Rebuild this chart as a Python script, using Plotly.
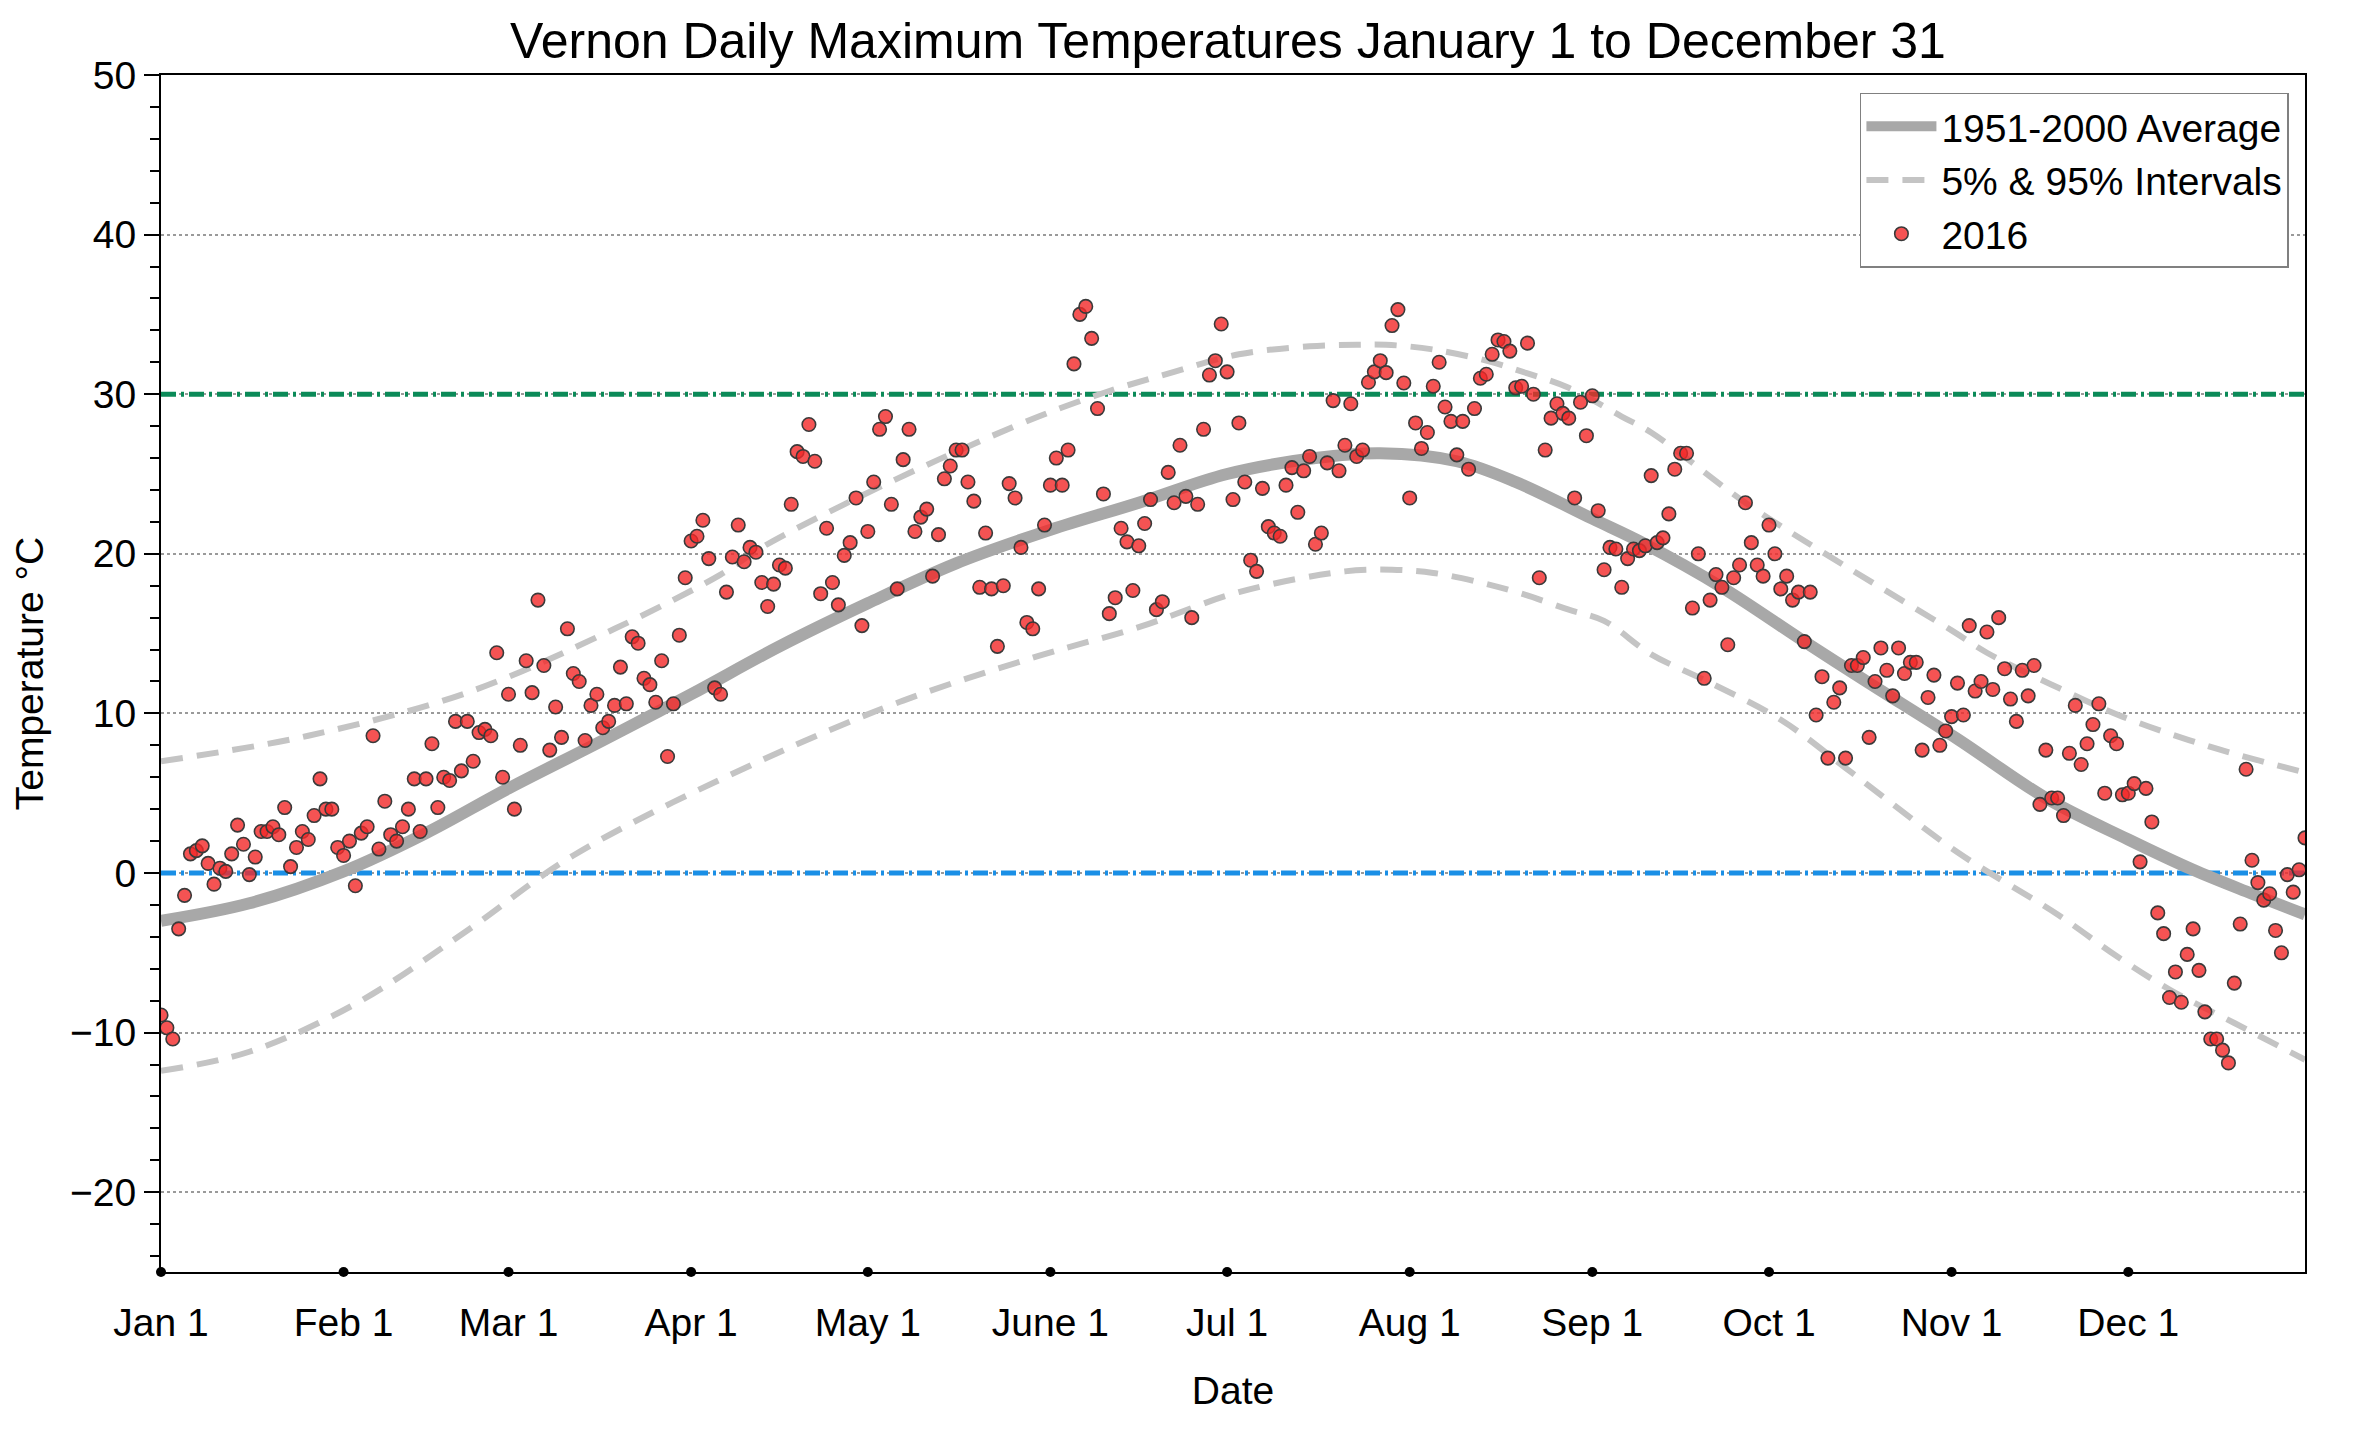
import plotly.graph_objects as go

# ---------------- data ----------------
temps_2016 = [
    -8.9, -9.7, -10.4, -3.5, -1.4, 1.2, 1.4, 1.7, 0.6, -0.7,
    0.3, 0.1, 1.2, 3.0, 1.8, -0.1, 1.0, 2.6, 2.6, 2.9,
    2.4, 4.1, 0.4, 1.6, 2.6, 2.1, 3.6, 5.9, 4.0, 4.0,
    1.6, 1.1, 2.0, -0.8, 2.5, 2.9, 8.6, 1.5, 4.5, 2.4,
    2.0, 2.9, 4.0, 5.9, 2.6, 5.9, 8.1, 4.1, 6.0, 5.8,
    9.5, 6.4, 9.5, 7.0, 8.8, 9.0, 8.6, 13.8, 6.0, 11.2,
    4.0, 8.0, 13.3, 11.3, 17.1, 13.0, 7.7, 10.4, 8.5, 15.3,
    12.5, 12.0, 8.3, 10.5, 11.2, 9.1, 9.5, 10.5, 12.9, 10.6,
    14.8, 14.4, 12.2, 11.8, 10.7, 13.3, 7.3, 10.6, 14.9, 18.5,
    20.8, 21.1, 22.1, 19.7, 11.6, 11.2, 17.6, 19.8, 21.8, 19.5,
    20.4, 20.1, 18.2, 16.7, 18.1, 19.3, 19.1, 23.1, 26.4, 26.1,
    28.1, 25.8, 17.5, 21.6, 18.2, 16.8, 19.9, 20.7, 23.5, 15.5,
    21.4, 24.5, 27.8, 28.6, 23.1, 17.8, 25.9, 27.8, 21.4, 22.3,
    22.8, 18.6, 21.2, 24.7, 25.5, 26.5, 26.5, 24.5, 23.3, 17.9,
    21.3, 17.8, 14.2, 18.0, 24.4, 23.5, 20.4, 15.7, 15.3, 17.8,
    21.8, 24.3, 26.0, 24.3, 26.5, 31.9, 35.0, 35.5, 33.5, 29.1,
    23.75, 16.25, 17.25, 21.6, 20.75, 17.7, 20.5, 21.9, 23.4, 16.5,
    17.0, 25.1, 23.2, 26.8, 23.6, 16.0, 23.1, 27.8, 31.2, 32.1,
    34.4, 31.4, 23.4, 28.2, 24.5, 19.6, 18.9, 24.1, 21.7, 21.3,
    21.1, 24.3, 25.4, 22.6, 25.2, 26.1, 20.6, 21.3, 25.7, 29.6,
    25.2, 26.8, 29.4, 26.1, 26.5, 30.75, 31.4, 32.1, 31.35, 34.3,
    35.3, 30.7, 23.5, 28.2, 26.6, 27.6, 30.5, 32.0, 29.2, 28.3,
    26.2, 28.3, 25.3, 29.1, 31.0, 31.25, 32.5, 33.4, 33.3, 32.7,
    30.4, 30.5, 33.2, 30.0, 18.5, 26.5, 28.5, 29.4, 28.8, 28.5,
    23.5, 29.5, 27.4, 29.9, 22.7, 19.0, 20.4, 20.3, 17.9, 19.7,
    20.3, 20.2, 20.5, 24.9, 20.7, 21.0, 22.5, 25.3, 26.3, 26.3,
    16.6, 20.0, 12.2, 17.1, 18.7, 17.9, 14.3, 18.5, 19.3, 23.2,
    20.7, 19.3, 18.6, 21.8, 20.0, 17.8, 18.6, 17.1, 17.6, 14.5,
    17.6, 9.9, 12.3, 7.2, 10.7, 11.6, 7.2, 13.0, 13.0, 13.5,
    8.5, 12.0, 14.1, 12.7, 11.1, 14.1, 12.5, 13.2, 13.2, 7.7,
    11.0, 12.4, 8.0, 8.9, 9.8, 11.9, 9.9, 15.5, 11.4, 12.0,
    15.1, 11.5, 16.0, 12.8, 10.9, 9.5, 12.7, 11.1, 13.0, 4.3,
    7.7, 4.7, 4.7, 3.6, 7.5, 10.5, 6.8, 8.1, 9.3, 10.6,
    5.0, 8.6, 8.1, 4.9, 5.0, 5.6, 0.7, 5.3, 3.2, -2.5,
    -3.8, -7.8, -6.2, -8.1, -5.1, -3.5, -6.1, -8.7, -10.4, -10.4,
    -11.1, -11.9, -6.9, -3.2, 6.5, 0.8, -0.6, -1.7, -1.3, -3.6,
    -5.0, -0.1, -1.2, 0.2, 2.2,
]
days_2016 = list(range(len(temps_2016)))

avg_days = [0, 15, 31, 45, 59, 75, 90, 105, 120, 135, 151, 166, 181, 196, 207,
            220, 230, 243, 252, 265, 279, 290, 305, 320, 334, 345, 355, 364]
avg_vals = [-3.0, -1.9, 0.1, 2.5, 5.3, 8.3, 11.2, 14.2, 16.9, 19.4, 21.5, 23.2,
            25.0, 26.0, 26.3, 25.8, 24.5, 22.2, 20.6, 17.9, 14.5, 11.9, 8.4,
            4.7, 2.1, 0.2, -1.3, -2.6]

p95_days = [0, 25, 52, 77, 95, 102, 116, 132, 149, 161, 172, 183, 195, 203, 208,
            216, 225, 232, 239, 248, 253, 269, 283, 304, 310, 321, 333, 348, 364]
p95_vals = [7.0, 8.6, 11.3, 15.3, 18.7, 20.4, 23.1, 25.9, 28.6, 30.2, 31.4, 32.5,
            33.0, 33.1, 33.1, 32.8, 32.1, 31.3, 30.4, 28.6, 27.6, 23.2, 19.9,
            15.2, 13.8, 11.8, 9.8, 7.9, 6.3]

p05_days = [0, 15, 33, 52, 70, 101, 126, 149, 166, 183, 201, 209, 216, 224, 231,
            239, 245, 253, 262, 275, 287, 305, 322, 332, 341, 352, 364]
p05_vals = [-12.4, -11.2, -8.2, -3.6, 1.1, 6.9, 10.8, 13.6, 15.4, 17.6, 18.9, 19.0,
            18.8, 18.2, 17.5, 16.5, 15.8, 13.7, 12.1, 9.6, 6.3, 1.3, -2.6, -5.2,
            -7.3, -9.4, -11.7]

ref_days = [0, 364]
hot_line = [30, 30]
freeze_line = [0, 0]

month_ticks = [0, 31, 59, 90, 120, 151, 181, 212, 243, 273, 304, 334]
month_labels = ["Jan 1", "Feb 1", "Mar 1", "Apr 1", "May 1", "June 1", "Jul 1",
                "Aug 1", "Sep 1", "Oct 1", "Nov 1", "Dec 1"]
tick_dot_y = [-25] * len(month_ticks)

FONT = "Liberation Sans, Arial, Helvetica, sans-serif"
PATTERN = "15px,5px,3px,5px"

fig = go.Figure()

fig.add_trace(go.Scatter(x=ref_days, y=hot_line, mode="lines", showlegend=False,
                         line=dict(color="#0b8a58", width=5, dash=PATTERN),
                         hoverinfo="skip"))
fig.add_trace(go.Scatter(x=ref_days, y=freeze_line, mode="lines", showlegend=False,
                         line=dict(color="#1a8fe6", width=5, dash=PATTERN),
                         hoverinfo="skip"))

fig.add_trace(go.Scatter(x=avg_days, y=avg_vals, mode="lines",
                         name="1951-2000 Average",
                         line=dict(color="#a8a8a8", width=12, shape="spline",
                                   smoothing=1.0)))
fig.add_trace(go.Scatter(x=p95_days, y=p95_vals, mode="lines",
                         name="5% & 95% Intervals",
                         line=dict(color="#c4c4c4", width=6, shape="spline",
                                   smoothing=1.0, dash="22px,14px")))
fig.add_trace(go.Scatter(x=p05_days, y=p05_vals, mode="lines", showlegend=False,
                         line=dict(color="#c4c4c4", width=6, shape="spline",
                                   smoothing=1.0, dash="22px,14px")))

fig.add_trace(go.Scatter(x=days_2016, y=temps_2016, mode="markers", name="2016",
                         marker=dict(size=13.5, color="rgba(242,40,40,0.8)",
                                     line=dict(color="#3a3a3a", width=1.6))))

fig.add_trace(go.Scatter(x=month_ticks, y=tick_dot_y, mode="markers",
                         showlegend=False, cliponaxis=False, hoverinfo="skip",
                         marker=dict(size=10, color="black")))

# the page body adds an 8px offset; margins compensate for it
fig.update_layout(
    width=2360, height=1432,
    margin=dict(l=153, r=63, t=67, b=168),
    paper_bgcolor="white", plot_bgcolor="white",
    font=dict(family=FONT, size=39, color="black"),
    title=dict(text="Vernon Daily Maximum Temperatures January 1 to December 31",
               x=(1228 - 8) / 2360, xref="container", xanchor="center",
               y=1 - 32 / 1432, yref="container", yanchor="middle",
               font=dict(size=50, family=FONT, color="black")),
    legend=dict(x=0.9925, y=0.985, xanchor="right", yanchor="top",
                bgcolor="white", bordercolor="#808080", borderwidth=1.5,
                font=dict(size=39, family=FONT), tracegroupgap=0,
                itemwidth=70),
    showlegend=True,
)

fig.update_xaxes(
    range=[0, 364], tickmode="array", tickvals=month_ticks, ticktext=month_labels,
    showgrid=False, zeroline=False, showline=True, linecolor="black", linewidth=2,
    mirror=True, ticks="", ticklabelstandoff=15,
    title=dict(text="Date", standoff=34, font=dict(size=39)),
)

fig.update_yaxes(
    range=[-25, 50], tickmode="linear", tick0=0, dtick=10,
    showgrid=True, gridcolor="#9a9a9a", gridwidth=1.5, griddash="dot",
    zeroline=False, showline=True, linecolor="black", linewidth=2, mirror=True,
    ticks="outside", ticklen=15, tickwidth=2, tickcolor="black",
    minor=dict(dtick=2, ticks="outside", ticklen=9, tickwidth=1.5,
               tickcolor="black", showgrid=False),
    title=dict(text="Temperature °C", standoff=16, font=dict(size=39)),
)

fig.write_html("out.html")
